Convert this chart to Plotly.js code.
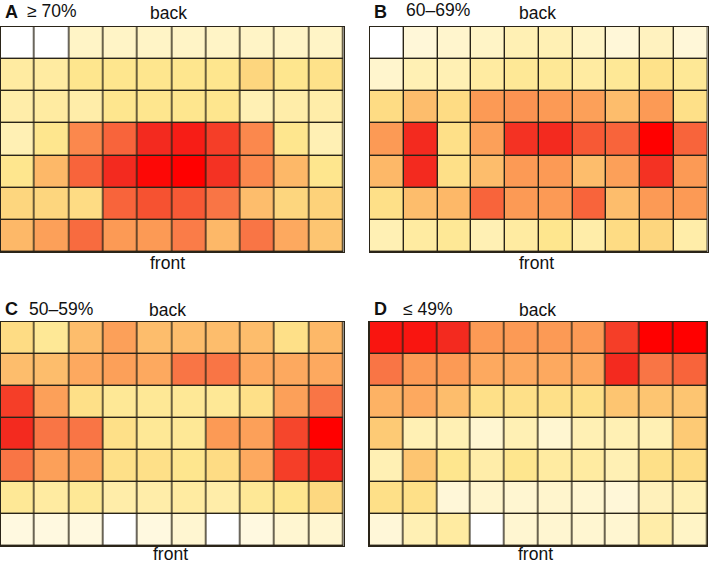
<!DOCTYPE html>
<html>
<head>
<meta charset="utf-8">
<script src="https://cdn.plot.ly/plotly-3.0.1.min.js"></script>
<style>html,body{margin:0;padding:0;background:#fff;}</style>
</head>
<body>
<div id="chart" style="width:709px;height:564px;"></div>
<script>
// Rows listed from back (top) to front (bottom); 10 columns each. Values on a 0-10 intensity scale.
const columns = [1,2,3,4,5,6,7,8,9,10];
const rows = [1,2,3,4,5,6,7];

const panelA = [
  [0, 0, 1.5, 1.5, 1.5, 1.5, 1.5, 1.5, 1.5, 1.5],
  [2.5, 2.5, 3, 3, 3, 3, 3, 3.8, 3, 3.2],
  [2.3, 2.5, 2.3, 3, 3, 3, 3, 2, 2.3, 2.3],
  [2, 3, 6.5, 7.5, 9, 9.3, 8.5, 6.5, 3, 2],
  [3, 5, 7.5, 9, 9.8, 10, 8.8, 6.5, 5, 3],
  [3.8, 3.8, 3.5, 7.5, 8, 7.8, 7, 4.8, 3.8, 4],
  [5, 5.8, 7.3, 6, 6, 6.8, 5, 7, 5.5, 4.5]
];
const panelB = [
  [0, 1, 1.3, 1.5, 2, 2, 1.5, 1, 1.7, 1],
  [1.3, 2, 2, 2.5, 2.8, 2.8, 2.5, 2.8, 3.2, 2.8],
  [3.5, 4.8, 3.5, 6, 6.2, 6, 5.8, 4.8, 6, 3.3],
  [6, 9, 3.3, 5.8, 8.8, 9, 7.8, 7.5, 10, 7.5],
  [5, 9, 3.3, 4.8, 6, 6, 4.8, 5.8, 8.8, 6],
  [3.3, 4.8, 5, 7.5, 6, 6, 7.5, 4.8, 6, 6],
  [2, 2.5, 2.8, 2, 2.5, 3, 2.3, 3.5, 3.8, 2.3]
];
const panelC = [
  [3.5, 2.8, 4.8, 5.8, 4.8, 4.8, 4.8, 4.8, 3.3, 5],
  [4.8, 4.8, 5.5, 5.8, 5.5, 7, 7, 5.5, 5.5, 5.5],
  [8.5, 5.8, 3.3, 2.8, 2.8, 2.8, 2.8, 3.3, 5.8, 7],
  [9, 7, 7, 3.3, 2.8, 2.8, 6, 5.8, 8.3, 10],
  [7, 5.8, 5.8, 3.3, 3.3, 3, 3.5, 5.5, 8.5, 9],
  [2.8, 2.5, 2.8, 2.3, 2.3, 2.5, 2.3, 2.8, 3, 3.7],
  [0.8, 0.8, 0.8, 0, 0.8, 1.2, 0, 0.8, 1.2, 1.2]
];
const panelD = [
  [9.5, 9.5, 9, 6, 6, 6, 6, 8.5, 10, 10],
  [7, 6, 6, 5.5, 5.5, 5.5, 5.5, 9, 7, 7.5],
  [5.2, 5.5, 4.8, 3.3, 3.3, 3.3, 3.3, 4.5, 4.5, 4.5],
  [4.3, 2, 2, 1.2, 2, 1.2, 2, 2, 2, 4.3],
  [2, 4.5, 3, 2.3, 3, 2.5, 2.5, 2, 3.3, 3.5],
  [3.3, 3.3, 1, 1.3, 1.2, 1.3, 1.2, 1, 1.8, 2],
  [1, 2, 2.5, 0, 1.2, 1.2, 1.2, 1.2, 2.3, 1.5]
];
const panelLetters = ['A', 'B', 'C', 'D'];
const panelRanges = ['\u2265 70%', '60\u201369%', '50\u201359%', '\u2264 49%'];
const topLabel = 'back';
const bottomLabel = 'front';

const colorscale = [
  [0.0, '#FFFFFF'],
  [0.1, '#FFF7D8'],
  [0.2, '#FFF0B4'],
  [0.3, '#FEE68E'],
  [0.4, '#FDD27A'],
  [0.5, '#FDB868'],
  [0.6, '#FC9A55'],
  [0.7, '#F97545'],
  [0.8, '#F65231'],
  [0.9, '#F32A1F'],
  [1.0, '#FF0000']
];

const W = 709, H = 564;
const panels = [panelA, panelB, panelC, panelD];
// layout: pixel boxes [left, right, top, bottom]
const boxes = [
  [0.5, 343.5, 27, 252],
  [370, 707.5, 27, 252],
  [0.5, 343.5, 322, 546],
  [369.5, 707, 322, 546]
];
// layout: label pixel positions
const backPos = [[168, 13], [537, 13], [167, 310], [537, 310]];
const frontPos = [[167, 263], [536, 263], [170, 557], [535, 557]];
const letterPos = [[3, 12], [372, 12], [3, 309], [372, 309]];
const rangePos = [[25, 11], [404, 10], [27, 309], [401, 309]];

const data = [];
const layout = {
  width: W, height: H,
  margin: {l: 0, r: 0, t: 0, b: 0},
  paper_bgcolor: '#ffffff',
  plot_bgcolor: '#2a2418',
  showlegend: false,
  font: {family: 'Liberation Sans, Arial, sans-serif', color: '#111'},
  annotations: []
};

function px(x) { return x / W; }
function py(y) { return 1 - y / H; }

panels.forEach((z, i) => {
  const n = i + 1;
  const xa = n === 1 ? 'x' : 'x' + n;
  const ya = n === 1 ? 'y' : 'y' + n;
  data.push({
    type: 'heatmap',
    z: z, x: columns, y: rows,
    xaxis: xa, yaxis: ya,
    zmin: 0, zmax: 10,
    colorscale: colorscale,
    showscale: false,
    xgap: 1.4, ygap: 1.4,
    hoverinfo: 'skip'
  });
  const b = boxes[i];
  const axCommon = {showgrid: false, zeroline: false, showticklabels: false, ticks: '',
    showline: true, mirror: true, linecolor: '#2a2418', linewidth: 1.2, fixedrange: true};
  layout[n === 1 ? 'xaxis' : 'xaxis' + n] = Object.assign({}, axCommon, {
    domain: [b[0] / W, b[1] / W], anchor: ya, range: [0.5, 10.5]
  });
  layout[n === 1 ? 'yaxis' : 'yaxis' + n] = Object.assign({}, axCommon, {
    domain: [1 - b[3] / H, 1 - b[2] / H], anchor: xa, range: [7.5, 0.5]
  });
  layout.annotations.push({
    xref: 'paper', yref: 'paper', x: px(backPos[i][0]), y: py(backPos[i][1]),
    text: topLabel, showarrow: false, xanchor: 'center', yanchor: 'middle',
    font: {size: 17.5, color: '#111'}
  });
  const bottomRow = i >= 2;
  layout.annotations.push({
    xref: 'paper', yref: 'paper', x: px(frontPos[i][0]),
    y: bottomRow ? 0 : py(frontPos[i][1]),
    yshift: bottomRow ? -1 : 0,
    text: bottomLabel, showarrow: false, xanchor: 'center',
    yanchor: bottomRow ? 'bottom' : 'middle', borderpad: 0,
    font: {size: 17.5, color: '#111'}
  });
  layout.annotations.push({
    xref: 'paper', yref: 'paper', x: px(letterPos[i][0]), y: py(letterPos[i][1]),
    text: '<b>' + panelLetters[i] + '</b>', showarrow: false, xanchor: 'left', yanchor: 'middle',
    font: {size: 18, color: '#111'}
  });
  layout.annotations.push({
    xref: 'paper', yref: 'paper', x: px(rangePos[i][0]), y: py(rangePos[i][1]),
    text: panelRanges[i], showarrow: false, xanchor: 'left', yanchor: 'middle',
    font: {size: 17.5, color: '#111'}
  });
});

Plotly.newPlot('chart', data, layout, {displayModeBar: false, staticPlot: true});
</script>
</body>
</html>
